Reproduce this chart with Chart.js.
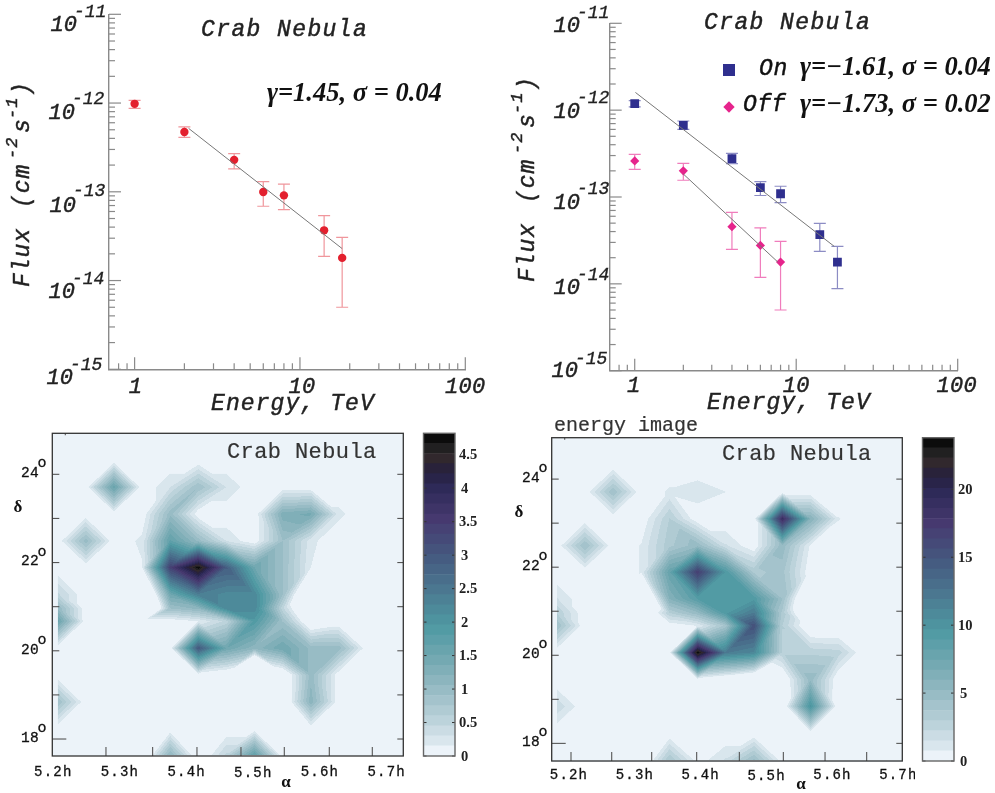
<!DOCTYPE html>
<html>
<head>
<meta charset="utf-8">
<title>Crab Nebula</title>
<script src="https://cdn.jsdelivr.net/npm/chart.js@4"></script>
<style>
  html, body { margin: 0; padding: 0; background: #fff; }
  #page { position: relative; width: 995px; height: 793px; overflow: hidden; }
  canvas { position: absolute; }
</style>
</head>
<body>
<div id="page"></div>
<script>
// Spectrum, left panel
const energyA = [1, 2, 4, 6, 8, 14, 18];
const fluxA = [9.8e-13, 4.72e-13, 2.29e-13, 9.95e-14, 9.12e-14, 3.68e-14, 1.8e-14];
const fluxAHigh = [1.07e-12, 5.38e-13, 2.69e-13, 1.3e-13, 1.22e-13, 5.4e-14, 3.07e-14];
const fluxALow = [8.7e-13, 4.11e-13, 1.81e-13, 6.87e-14, 6.31e-14, 1.87e-14, 5e-15];
const fitAEnergy = [2.12, 18];
const fitAFlux = [5.19e-13, 2.29e-14];

// Spectrum, right panel
const energyOn = [1, 2, 4, 6, 8, 14, 18];
const fluxOn = [1.19e-12, 6.68e-13, 2.76e-13, 1.28e-13, 1.09e-13, 3.68e-14, 1.78e-14];
const fluxOnHigh = [1.29e-12, 7.5e-13, 3.18e-13, 1.5e-13, 1.33e-13, 4.98e-14, 2.7e-14];
const fluxOnLow = [1.09e-12, 6e-13, 2.42e-13, 1.04e-13, 8.6e-14, 2.37e-14, 8.8e-15];
const energyOff = [1, 2, 4, 6, 8];
const fluxOff = [2.6e-13, 2e-13, 4.55e-14, 2.77e-14, 1.78e-14];
const fluxOffHigh = [3.1e-13, 2.44e-13, 6.65e-14, 4.4e-14, 3.08e-14];
const fluxOffLow = [2.08e-13, 1.56e-13, 2.5e-14, 1.19e-14, 5e-15];
const fitOnEnergy = [1.01, 17.2];
const fitOnFlux = [1.6e-12, 2.7e-14];
const fitOffEnergy = [2, 7.7];
const fitOffFlux = [1.84e-13, 1.78e-14];

// Ticks of the spectrum axes
const energyMajor = [1, 10, 100];
const energyMinor = [0.8, 0.9, 2, 3, 4, 5, 6, 7, 8, 9, 20, 30, 40, 50, 60, 70, 80, 90];
const fluxDecades = [-11, -12, -13, -14, -15];
const minorSteps = [2, 3, 4, 5, 6, 7, 8, 9];

// Sky maps: one row per declination, one column per right ascension
const decNodes = [24.32, 23.71, 23.10, 22.49, 21.89, 21.28, 20.96, 20.67, 20.06, 19.45, 18.84, 18.23, 17.63];
const raNodesC = [5.2065, 5.2487, 5.2909, 5.3331, 5.3753, 5.4175, 5.4597, 5.5019, 5.5441, 5.5863, 5.6285, 5.6707, 5.7129];
const raNodesD = [5.1813, 5.2241, 5.2669, 5.3097, 5.3525, 5.3953, 5.4381, 5.4809, 5.5237, 5.5665, 5.6093, 5.6521, 5.6949];

const mapC = [
  [0, 0, 0, 0, 0, 0, 0, 0, 0, 0, 0, 0, 0],
  [0, 0, 1.6, 0, .3, .9, .3, 0, 0, 0, 0, 0, 0],
  [0, 0, 0, 0, 1.0, 0, 0, 0, 1.3, 1.4, .2, 0, 0],
  [0, 1.0, 0, .2, 1.7, 1.0, .3, 0, .9, .2, 0, 0, 0],
  [0, 0, 0, .13, 3.4, 4.8, 2.9, 1.5, .9, .15, 0, 0, 0],
  [.5, 0, 0, -1.2, 1.5, 2.4, 2.2, 2.2, .9, -.9, 0, 0, 0],
  [1.05, 0, 0, -1.5, .9, 1.1, 2.2, 2.2, .5, -.6, 0, 0, 0],
  [1.6, 0, 0, 0, 0, .15, .5, 1.9, .9, -.25, -.06, 0, 0],
  [0, 0, 0, 0, 0, 3.0, 1.5, 1.1, 1.5, 1.0, 1.0, 0, 0],
  [0, 0, 0, 0, 0, 0, -.2, -2.6, -.3, 1.0, 0, 0, 0],
  [.9, 0, 0, 0, 0, 0, 0, 0, -.3, 1.15, 0, 0, 0],
  [0, 0, 0, 0, 0, 0, 0, 0, 0, 0, 0, 0, 0],
  [0, 0, 0, -.4, 1.1, -.15, .5, 1.7, 0, 0, 0, 0, 0]
];
const mapD = [
  [0, 0, 0, 0, 0, 0, 0, 0, 0, 0, 0, 0, 0],
  [0, 0, 4.4, 0, .9, 1.3, .75, 0, 0, 0, 0, 0, 0],
  [0, 0, 0, 0, 3, 0, 0, 0, 19, 6, .8, 0, 0],
  [0, 4.5, 0, .8, 3.5, 5, 1.6, 0, 5, .6, 0, 0, 0],
  [0, 0, 0, .8, 8, 17, 9.5, 3.5, 4, 0, 0, 0, 0],
  [1.6, 0, 0, -5, 6, 9, 9.5, 9.5, 4.5, -3.9, 0, 0, 0],
  [3, 0, 0, -2.5, 3, 5, 9.5, 12, 3.5, -3, 0, 0, 0],
  [4.5, 0, 0, 0, 0, .8, 4, 15.5, 3, -.8, -.8, 0, 0],
  [0, 0, 0, 0, 0, 23.8, 12, 11, 2.8, 2.8, 2.6, -.4, 0],
  [0, 0, 0, 0, 0, 0, -1.3, -2.9, -.93, 5, -.36, 0, 0],
  [2.1, 0, 0, 0, 0, 0, 0, 0, -1.2, 10, -.5, 0, 0],
  [0, 0, 0, 0, 0, 0, 0, 0, 0, 0, 0, 0, 0],
  [0, 0, 0, -1.5, 3.7, .2, 1.6, 4.6, .1, 0, 0, 0, 0]
];

// Ticks of the sky maps
const raLabels = ['5.2h', '5.3h', '5.4h', '5.5h', '5.6h', '5.7h'];
const raValues = [5.2, 5.3, 5.4, 5.5, 5.6, 5.7];
const raTicksC = [5.279, 5.349, 5.4155, 5.4815, 5.5465, 5.614, 5.6785];
const raTicksD = [5.203, 5.2648, 5.3255, 5.3938, 5.4586, 5.5254, 5.5887, 5.6519];
const decTicks = [18, 19, 20, 21, 22, 23, 24];
const decLabels = [24, 22, 20, 18];
const scaleTicksC = [0, 0.5, 1, 1.5, 2, 2.5, 3, 3.5, 4, 4.5];
const scaleTicksD = [0, 5, 10, 15, 20];

// Colour scale of the maps, 32 flat bands
const BANDS = 32;
const colorStops = [
  [0, '#ecf3f9'], [.05, '#d8e5ec'], [.1, '#c0d5dd'], [.21, '#95bac3'], [.31, '#6fa6b0'], [.4, '#4f9aa3'],
  [.5, '#4c7c92'], [.62, '#44597f'], [.73, '#473a70'], [.83, '#2e2a58'], [.88, '#26203f'],
  [.92, '#32282e'], [.96, '#1e1e1e'], [1, '#000000']
];

function hexRgb(h) {
  return [parseInt(h.slice(1, 3), 16), parseInt(h.slice(3, 5), 16), parseInt(h.slice(5, 7), 16)];
}
function bandColor(i) {
  if (i <= 0) return hexRgb(colorStops[0][1]);
  const t = (i + 0.5) / BANDS;
  for (let k = 1; k < colorStops.length; k++) {
    if (t <= colorStops[k][0]) {
      const f = (t - colorStops[k - 1][0]) / (colorStops[k][0] - colorStops[k - 1][0]);
      const a = hexRgb(colorStops[k - 1][1]), b = hexRgb(colorStops[k][1]);
      return a.map((c, n) => Math.round(c + (b[n] - c) * f));
    }
  }
  return [0, 0, 0];
}
const bandRgb = Array.from({ length: BANDS }, (_, i) => bandColor(i));

const MONO = '"Liberation Mono", "DejaVu Sans Mono", monospace';
const SERIF = '"Liberation Serif", "DejaVu Serif", serif';
const INK = '#222222';

function put(ctx, s, x, y, font, align, spacing, color, weight) {
  ctx.save();
  ctx.font = font;
  ctx.textAlign = align || 'left';
  ctx.textBaseline = 'middle';
  ctx.letterSpacing = (spacing || 0) + 'px';
  ctx.fillStyle = color || INK;
  ctx.fillText(s, x, y);
  if (weight) {
    ctx.strokeStyle = color || INK;
    ctx.lineWidth = weight;
    ctx.strokeText(s, x, y);
  }
  ctx.restore();
}

// Rotated flux title, pieces set along the axis from the bottom up
function fluxTitle(ctx, x, y) {
  const big = 'italic 23px ' + MONO, small = 'italic 17px ' + MONO;
  const parts = [['Flux', big, 0, 0], ['(cm', big, 0, 79], ['-2', small, -11, 128], ['s', big, 0, 154], ['-1', small, -11, 168], [')', big, 0, 191]];
  ctx.save();
  ctx.translate(x, y);
  ctx.rotate(-Math.PI / 2);
  parts.forEach(p => put(ctx, p[0], p[3], p[2], p[1], 'left', 1, INK, 0.45));
  ctx.restore();
}

// Error bars with caps, taken from the dataset's high and low arrays
const errorBars = {
  id: 'errorBars',
  beforeDatasetsDraw(chart) {
    const ctx = chart.ctx, sx = chart.scales.x, sy = chart.scales.y;
    chart.data.datasets.forEach(ds => {
      if (!ds.high) return;
      ctx.save();
      ctx.strokeStyle = ds.barColor;
      ctx.lineWidth = 1.2;
      ds.data.forEach((p, i) => {
        const x = sx.getPixelForValue(p.x), yh = sy.getPixelForValue(ds.high[i]), yl = sy.getPixelForValue(ds.low[i]);
        ctx.beginPath();
        ctx.moveTo(x, yh); ctx.lineTo(x, yl);
        ctx.moveTo(x - 6, yh); ctx.lineTo(x + 6, yh);
        ctx.moveTo(x - 6, yl); ctx.lineTo(x + 6, yl);
        ctx.stroke();
      });
      ctx.restore();
    });
  }
};

// Log axes ticks and all text of a spectrum panel
const spectrumFrame = {
  id: 'spectrumFrame',
  afterDraw(chart, args, o) {
    const ctx = chart.ctx, sx = chart.scales.x, sy = chart.scales.y, a = chart.chartArea;
    ctx.save();
    ctx.strokeStyle = '#8a8a8a';
    ctx.lineWidth = 1.2;
    const tickX = (v, len) => { const x = sx.getPixelForValue(v); ctx.beginPath(); ctx.moveTo(x, a.bottom); ctx.lineTo(x, a.bottom - len); ctx.stroke(); };
    const tickY = (v, len) => { const y = sy.getPixelForValue(v); ctx.beginPath(); ctx.moveTo(a.left, y); ctx.lineTo(a.left + len, y); ctx.stroke(); };
    energyMajor.forEach(v => tickX(v, 12));
    energyMinor.forEach(v => tickX(v, 6));
    fluxDecades.forEach(d => tickY(Math.pow(10, d), 12));
    fluxDecades.slice(1).forEach(d => minorSteps.forEach(m => tickY(m * Math.pow(10, d), 6)));
    ctx.restore();

    const big = 'italic 22px ' + MONO, exp = 'italic 18px ' + MONO;
    fluxDecades.forEach((d, i) => {
      const y = sy.getPixelForValue(Math.pow(10, d));
      put(ctx, '10', o.tenX + o.tenShiftX[i], y + o.tenDy[i], big, 'right', 0, INK, 0.45);
      put(ctx, String(d), o.expX + o.tenShiftX[i], y + o.expDy[i], exp, 'left', 0, INK, 0.35);
    });
    energyMajor.forEach((v, i) => {
      put(ctx, String(v), sx.getPixelForValue(v) + o.energyDx[i], o.energyY, big, 'center', 0.3, INK, 0.45);
    });
    put(ctx, 'Energy, TeV', o.xTitle[0], o.xTitle[1], 'italic 23px ' + MONO, 'left', 1.1, INK, 0.45);
    put(ctx, 'Crab Nebula', o.title[0], o.title[1], 'italic 23px ' + MONO, 'left', 1.4, INK, 0.45);
    fluxTitle(ctx, o.yTitle[0], o.yTitle[1]);
    o.notes.forEach(n => {
      if (n[3] === 'mono') put(ctx, n[0], n[1], n[2], 'italic 23px ' + MONO, 'left', 0.6, '#111', 0.45);
      else put(ctx, n[0], n[1], n[2], 'italic bold 26.5px ' + SERIF, 'left', 0, '#111');
    });
    (o.keys || []).forEach(k => {
      ctx.save();
      ctx.fillStyle = k[3];
      ctx.translate(k[1], k[2]);
      if (k[0] === 'diamond') ctx.rotate(Math.PI / 4);
      const s = k[0] === 'diamond' ? 8 : 12;
      ctx.fillRect(-s / 2, -s / 2, s, s);
      ctx.restore();
    });
  }
};

// Triangulated contour fill of a map grid, placed through the chart's scales
const contourFill = {
  id: 'contourFill',
  beforeDatasetsDraw(chart, args, o) {
    const ctx = chart.ctx, sx = chart.scales.x, sy = chart.scales.y, a = chart.chartArea;
    const px = o.ra.map(v => sx.getPixelForValue(v));
    const py = o.dec.map(v => sy.getPixelForValue(v));
    const SS = 3;
    const w = Math.ceil(a.right - a.left) * SS, h = Math.ceil(a.bottom - a.top) * SS;
    const off = document.createElement('canvas');
    off.width = w; off.height = h;
    const oc = off.getContext('2d');
    const img = oc.createImageData(w, h);
    const bg = bandRgb[0];
    let ci = 0;
    for (let Y = 0; Y < h; Y++) {
      const yy = a.top + (Y + 0.5) / SS;
      let j = -1;
      for (let n = 0; n < py.length - 1; n++) if (yy >= py[n] && yy < py[n + 1]) { j = n; break; }
      let col = 0;
      for (let X = 0; X < w; X++, ci += 4) {
        const xx = a.left + (X + 0.5) / SS;
        let c = bg;
        if (j >= 0) {
          while (col < px.length - 1 && xx >= px[col + 1]) col++;
          if (xx >= px[0] && col < px.length - 1) {
            const u = (xx - px[col]) / (px[col + 1] - px[col]), t = (yy - py[j]) / (py[j + 1] - py[j]);
            const p = o.grid[j][col], q = o.grid[j][col + 1], r = o.grid[j + 1][col], s = o.grid[j + 1][col + 1];
            let val;
            if (Math.abs(p - s) <= Math.abs(q - r)) {
              val = u >= t ? p + (q - p) * u + (s - q) * t : p + (r - p) * t + (s - r) * u;
            } else {
              val = u + t <= 1 ? p + (q - p) * u + (r - p) * t : s + (r - s) * (1 - u) + (q - s) * (1 - t);
            }
            const lvl = Math.max(0, Math.min(BANDS - 1, Math.floor(val / o.vmax * BANDS)));
            c = bandRgb[lvl];
          }
        }
        img.data[ci] = c[0]; img.data[ci + 1] = c[1]; img.data[ci + 2] = c[2]; img.data[ci + 3] = 255;
      }
    }
    oc.putImageData(img, 0, 0);
    ctx.save();
    ctx.imageSmoothingEnabled = true;
    ctx.filter = 'blur(0.5px)';
    ctx.drawImage(off, a.left, a.top, w / SS, h / SS);
    ctx.restore();
  }
};

// Frame, ticks and text of a map panel
const mapFrame = {
  id: 'mapFrame',
  afterDraw(chart, args, o) {
    const ctx = chart.ctx, sx = chart.scales.x, sy = chart.scales.y, a = chart.chartArea;
    ctx.save();
    ctx.strokeStyle = '#555';
    ctx.lineWidth = 1.1;
    const line = (x1, y1, x2, y2) => { ctx.beginPath(); ctx.moveTo(x1, y1); ctx.lineTo(x2, y2); ctx.stroke(); };
    decTicks.forEach(d => {
      const y = sy.getPixelForValue(d);
      line(a.left, y, a.left + (d === 18 ? 14 : 7), y);
      line(a.right, y, a.right - 6, y);
    });
    o.raTicks.forEach(v => { const x = sx.getPixelForValue(v); line(x, a.bottom, x, a.bottom - 9); });
    line(a.left + 13, a.top, a.left + 13, a.top + 2);
    ctx.strokeStyle = '#333';
    ctx.lineWidth = 1.3;
    ctx.strokeRect(a.left, a.top, a.right - a.left, a.bottom - a.top);
    ctx.restore();

    // text positions below are page coordinates
    ctx.save();
    ctx.translate(-o.origin[0], -o.origin[1]);
    const oy = o.origin[1], ox = o.origin[0];
    decLabels.forEach(d => {
      const y = sy.getPixelForValue(d) + oy;
      put(ctx, String(d), o.decX, y - 1, '14.5px ' + MONO, 'center', 0.3, '#111', 0.3);
      put(ctx, 'o', o.decX + 12, y - 11, '15px ' + MONO, 'center', 0, '#111', 0.3);
    });
    raValues.forEach((v, i) => {
      put(ctx, raLabels[i], sx.getPixelForValue(v) + ox, o.raY + (i === 3 ? 1 : 0), '14px ' + MONO, 'center', 1.2, '#111', 0.3);
    });
    put(ctx, 'δ', o.delta[0], o.delta[1], 'bold 17px ' + SERIF, 'center', 0, '#111');
    put(ctx, 'α', o.alpha[0], o.alpha[1], 'bold 17px ' + SERIF, 'center', 0, '#111');
    put(ctx, 'Crab Nebula', o.title[0], o.title[1], '22px ' + MONO, 'left', 0.4, '#333', 0.2);
    if (o.top) put(ctx, o.top[0], o.top[1], o.top[2], '20px ' + MONO, 'left', 0, '#333', 0.2);
    ctx.restore();
  }
};

// Frame and tick labels of a colour bar
const barFrame = {
  id: 'barFrame',
  afterDraw(chart, args, o) {
    const ctx = chart.ctx, sy = chart.scales.y, a = chart.chartArea;
    ctx.save();
    ctx.strokeStyle = '#333';
    ctx.lineWidth = 1;
    o.ticks.forEach(v => {
      const y = sy.getPixelForValue(v);
      ctx.beginPath();
      ctx.moveTo(a.left, y); ctx.lineTo(a.left + 3, y);
      ctx.moveTo(a.right, y); ctx.lineTo(a.right - 3, y);
      ctx.stroke();
    });
    ctx.strokeStyle = '#666';
    ctx.lineWidth = 1.4;
    ctx.strokeRect(a.left, a.top, a.right - a.left, a.bottom - a.top);
    ctx.restore();
    o.ticks.forEach(v => {
      put(ctx, String(v), a.right + 4 + (String(v).length === 1 ? 2 : 0), sy.getPixelForValue(v) + 1, 'bold 14.5px ' + SERIF, 'left', 0, '#222');
    });
  }
};

function addCanvas(box) {
  const c = document.createElement('canvas');
  c.width = box[2]; c.height = box[3];
  c.style.left = box[0] + 'px'; c.style.top = box[1] + 'px';
  document.getElementById('page').appendChild(c);
  return c;
}

function padFor(box, plot) {
  return { left: plot[0] - box[0], top: plot[1] - box[1], right: box[0] + box[2] - plot[2], bottom: box[1] + box[3] - plot[3] };
}

function points(xs, ys) {
  return xs.map((x, i) => ({ x: x, y: ys[i] }));
}

const noGrid = { display: false, drawTicks: false, tickLength: 0 };

function spectrumChart(box, plot, datasets, frame) {
  const axisBorder = { display: true, color: '#8a8a8a', width: 1.4 };
  new Chart(addCanvas(box), {
    type: 'scatter',
    data: { datasets: datasets },
    options: {
      responsive: false,
      animation: false,
      devicePixelRatio: 1,
      layout: { padding: padFor(box, plot) },
      plugins: { legend: { display: false }, tooltip: { enabled: false }, spectrumFrame: frame },
      scales: {
        x: { type: 'logarithmic', min: 0.703, max: 100, grid: noGrid, ticks: { display: false, padding: 0 }, border: axisBorder },
        y: { type: 'logarithmic', min: 1e-15, max: 1e-11, grid: noGrid, ticks: { display: false, padding: 0 }, border: axisBorder }
      }
    },
    plugins: [errorBars, spectrumFrame]
  });
}

function fitLine(xs, ys) {
  return { data: points(xs, ys), showLine: true, borderColor: '#777', borderWidth: 1, pointRadius: 0 };
}

function mapChart(box, plot, xRange, yRange, frame, contour) {
  const nodes = [];
  contour.dec.forEach((d, j) => contour.ra.forEach((r, i) => nodes.push({ x: r, y: d, v: contour.grid[j][i] })));
  frame.origin = [box[0], box[1]];
  new Chart(addCanvas(box), {
    type: 'scatter',
    data: { datasets: [{ data: nodes, pointRadius: 0 }] },
    options: {
      responsive: false,
      animation: false,
      devicePixelRatio: 1,
      layout: { padding: padFor(box, plot) },
      plugins: { legend: { display: false }, tooltip: { enabled: false }, mapFrame: frame, contourFill: contour },
      scales: {
        x: { type: 'linear', min: xRange[0], max: xRange[1], grid: noGrid, ticks: { display: false, padding: 0 }, border: { display: false } },
        y: { type: 'linear', min: yRange[0], max: yRange[1], grid: noGrid, ticks: { display: false, padding: 0 }, border: { display: false } }
      }
    },
    plugins: [contourFill, mapFrame]
  });
}

function colorBar(box, plot, vmax, ticks) {
  const sets = bandRgb.map((c, i) => ({
    data: [[i * vmax / BANDS, (i + 1) * vmax / BANDS]],
    backgroundColor: 'rgb(' + c.join(',') + ')',
    borderWidth: 0,
    barPercentage: 1,
    categoryPercentage: 1,
    grouped: false
  }));
  new Chart(addCanvas(box), {
    type: 'bar',
    data: { labels: ['level'], datasets: sets },
    options: {
      responsive: false,
      animation: false,
      devicePixelRatio: 1,
      layout: { padding: padFor(box, plot) },
      plugins: { legend: { display: false }, tooltip: { enabled: false }, barFrame: { ticks: ticks } },
      scales: {
        x: { grid: noGrid, ticks: { display: false, padding: 0 }, border: { display: false } },
        y: { min: 0, max: vmax, grid: noGrid, ticks: { display: false, padding: 0 }, border: { display: false } }
      }
    },
    plugins: [barFrame]
  });
}

const RED = '#e3202e', RED_BAR = '#f0969c', NAVY = '#2f2f8e', NAVY_BAR = '#8c8cc4', PINK = '#e6248c', PINK_BAR = '#f07cbc';

spectrumChart([0, 0, 498, 416], [109, 14.3, 465.3, 369.3], [
  fitLine(fitAEnergy, fitAFlux),
  { data: points(energyA, fluxA), high: fluxAHigh, low: fluxALow, barColor: RED_BAR, backgroundColor: RED, borderWidth: 0, pointRadius: 4.2 }
], {
  tenX: 76, expX: 73, tenShiftX: [1, -1, 0, -1, -3],
  tenDy: [11, 10, 14, 12, 9], expDy: [-2, -4, -1, -1, -4],
  energyDx: [1, 2, 0], energyY: 387,
  title: [201, 30], xTitle: [211, 404], yTitle: [23, 287],
  notes: [['γ=1.45, σ = 0.04', 267, 94, 'serif']]
});

spectrumChart([498, 0, 497, 416], [609.7, 23.3, 957.7, 370.7], [
  fitLine(fitOnEnergy, fitOnFlux),
  fitLine(fitOffEnergy, fitOffFlux),
  { data: points(energyOn, fluxOn), high: fluxOnHigh, low: fluxOnLow, barColor: NAVY_BAR, backgroundColor: NAVY, borderWidth: 0, pointStyle: 'rect', pointRadius: 6.2 },
  { data: points(energyOff, fluxOff), high: fluxOffHigh, low: fluxOffLow, barColor: PINK_BAR, backgroundColor: PINK, borderWidth: 0, pointStyle: 'rectRot', pointRadius: 4.6 }
], {
  tenX: 580 - 498, expX: 577 - 498, tenShiftX: [0, 0, 0, 0, -2],
  tenDy: [3, 2, 6, 4, 0], expDy: [-10, -12, -8, -9, -11],
  energyDx: [-1, 0, -1], energyY: 386,
  title: [704 - 498, 23], xTitle: [707 - 498, 403], yTitle: [528 - 498, 282],
  notes: [
    ['On', 759 - 498, 69, 'mono'],
    ['γ=−1.61, σ = 0.04', 800 - 498, 68, 'serif'],
    ['Off', 743 - 498, 105, 'mono'],
    ['γ=−1.73, σ = 0.02', 800 - 498, 105, 'serif']
  ],
  keys: [['rect', 729 - 498, 70, NAVY], ['diamond', 729 - 498, 107, PINK]]
});

mapChart([0, 416, 415, 377], [52.3, 433.3, 403.3, 756], [5.1985, 5.725], [17.615, 24.93], {
  raTicks: raTicksC, decX: 30, raY: 772,
  delta: [18, 508], alpha: [286, 783], title: [227, 452]
}, { ra: raNodesC, dec: decNodes, grid: mapC, vmax: 4.82 });

colorBar([415, 416, 80, 377], [423.5, 433.3, 455, 756], 4.82, scaleTicksC);

mapChart([500, 416, 415, 377], [551.7, 437.7, 902.3, 761], [5.1737, 5.706], [17.6, 24.94], {
  raTicks: raTicksD, decX: 531, raY: 775,
  delta: [519, 513], alpha: [801, 785], title: [722, 454], top: ['energy image', 554, 426]
}, { ra: raNodesD, dec: decNodes, grid: mapD, vmax: 23.8 });

colorBar([915, 416, 80, 377], [922.5, 437.7, 954, 761], 23.8, scaleTicksD);
</script>
</body>
</html>
